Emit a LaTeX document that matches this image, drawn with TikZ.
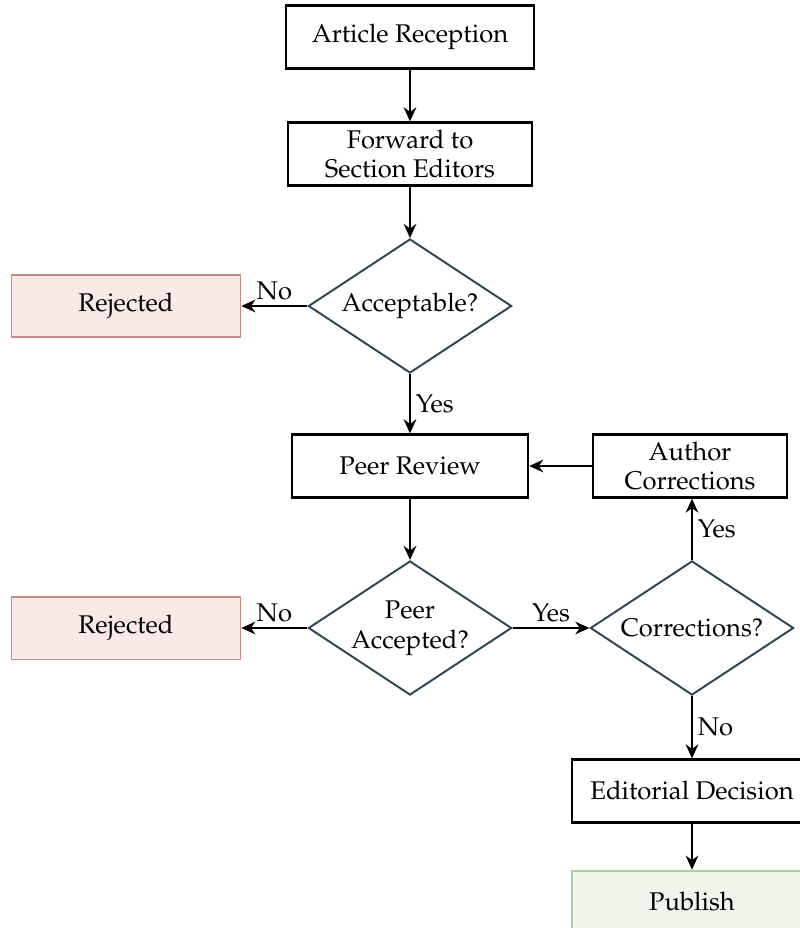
\documentclass[tikz,border=0pt]{standalone}
\usepackage[T1]{fontenc}
\usepackage{mathpazo}
\usepackage{xcolor}
\usepackage{tikz}
\usetikzlibrary{arrows.meta,shapes.geometric,positioning}

\definecolor{rejfill}{HTML}{F9E9E7}
\definecolor{rejdraw}{HTML}{C68A86}
\definecolor{pubfill}{HTML}{EEF5EA}
\definecolor{pubdraw}{HTML}{A9CFA0}
\definecolor{decdraw}{HTML}{2E4757}

\tikzset{
  stepbox/.style={draw=black, line width=1.7pt, fill=white, align=center,
    minimum height=1.57cm, inner sep=2pt},
  rejbox/.style={stepbox, draw=rejdraw, fill=rejfill, line width=1.3pt},
  pubbox/.style={stepbox, draw=pubdraw, fill=pubfill, line width=1.3pt},
  decision/.style={diamond, draw=decdraw, line width=1.4pt, align=center,
    minimum width=5.08cm, minimum height=3.35cm, aspect=1.53, inner sep=0pt},
  flow/.style={-{Stealth[length=10pt,width=9pt]}, line width=1.6pt},
  lbl/.style={font=\fontsize{18.2}{21}\selectfont}
}

\begin{document}
\begin{tikzpicture}[x=0.025cm, y=-0.025cm, font=\fontsize{18.2}{21}\selectfont]
\clip (0,0) rectangle (800,928);
%%%%% Main column %%%%%
\node[stepbox, minimum width=6.2cm] (recv) at (410,37) {Article Reception};
\node[stepbox, minimum width=6.1cm] (fwd) at (410,154) {Forward to\\Section Editors};
\node[decision] (acc) at (410,306) {Acceptable?};
\node[rejbox, minimum width=5.72cm] (rej1) at (126,306) {Rejected};
\node[stepbox, minimum width=5.9cm] (peer) at (410,466) {Peer Review};
\node[decision] (pacc) at (410,628) {Peer\\Accepted?};
\node[rejbox, minimum width=5.72cm] (rej2) at (126,628) {Rejected};
%%%%% Right column %%%%%
\node[stepbox, minimum width=4.85cm] (auth) at (690,466) {Author\\Corrections};
\node[decision] (corr) at (692,628) {Corrections?};
\node[stepbox, minimum width=6cm] (edit) at (692,791) {Editorial Decision};
\node[pubbox, minimum width=6cm] (pub) at (692,902) {Publish};

%%%%% Connectors %%%%%
\draw[flow] (recv) -- (fwd);
\draw[flow] (fwd) -- (acc);
\draw[flow] (acc) -- node[lbl, above] {No} (rej1);
\draw[flow] (acc) -- node[lbl, right] {Yes} (peer);
\draw[flow] (peer) -- (pacc);
\draw[flow] (pacc) -- node[lbl, above] {No} (rej2);
\draw[flow] (pacc) -- node[lbl, above] {Yes} (corr);
\draw[flow] (corr.north) -- node[lbl, right] {Yes} (auth.south-|corr.north);
\draw[flow] (auth) -- (peer);
\draw[flow] (corr) -- node[lbl, right] {No} (edit);
\draw[flow] (edit) -- (pub);
\end{tikzpicture}
\end{document}
